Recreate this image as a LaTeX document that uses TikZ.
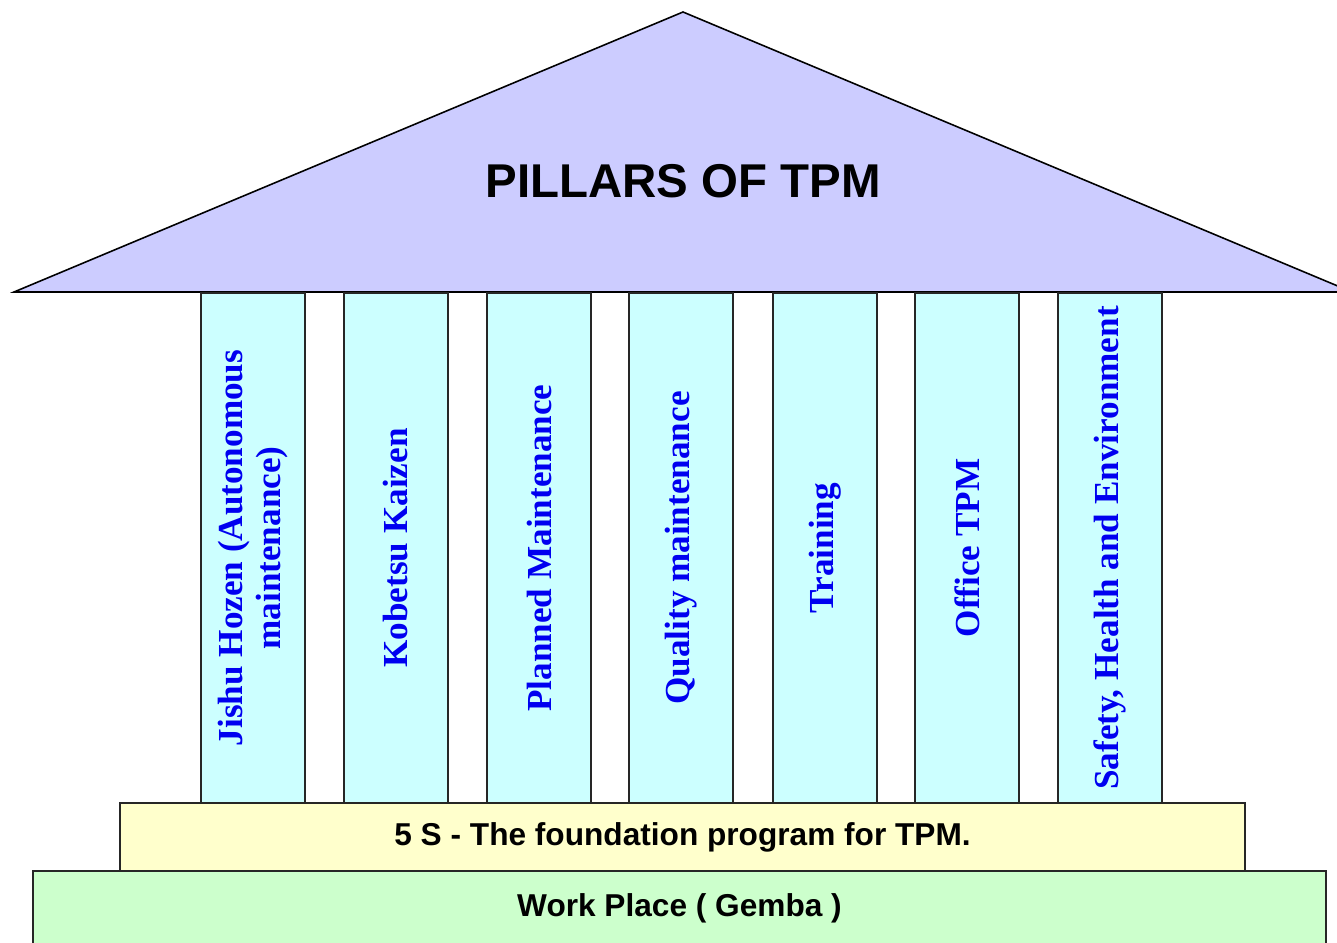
\documentclass[tikz,border=0pt]{standalone}
\usepackage{fontspec}
\setmainfont{Liberation Serif}
\setsansfont{Liberation Sans}
\usepackage{tikz}
\usetikzlibrary{positioning}

\definecolor{roofcol}{HTML}{CCCCFF}
\definecolor{pillarcol}{HTML}{CCFFFF}
\definecolor{fivescol}{HTML}{FFFFCC}
\definecolor{gembacol}{HTML}{CCFFCC}
\definecolor{pillartext}{HTML}{0000F0}

\tikzset{
	pillar/.style={draw=black!85, line width=0.9pt, fill=pillarcol, rotate=90,
		minimum width=10.2cm, minimum height=2.08cm, inner sep=0pt, align=center,
		text=pillartext, font=\rmfamily\bfseries\fontsize{20}{22}\selectfont},
	base/.style={draw=black!85, line width=0.9pt, inner sep=0pt,
		font=\sffamily\bfseries\fontsize{18}{20}\selectfont}
}

\begin{document}
\begin{tikzpicture}[x=0.02cm, y=-0.02cm]
		%%%%% START %%%%%
		\useasboundingbox (0, 0) rectangle (1337, 942);
		
		\draw[fill=roofcol, line width=0.9pt, line join=miter] (14, 292) -- (683, 12) -- (1352, 292) -- cycle;
		\node[font=\sffamily\bfseries\fontsize{27}{30}\selectfont] (title) at (683, 181) {PILLARS OF TPM};
		
		\node[pillar] (jishu) at (253, 548) {Jishu Hozen (Autonomous\\maintenance)};
		\node[pillar] (kobetsu) at (396, 548) {Kobetsu Kaizen};
		\node[pillar] (planned) at (539, 548) {Planned Maintenance};
		\node[pillar] (quality) at (681, 548) {Quality maintenance};
		\node[pillar] (training) at (825, 548) {Training};
		\node[pillar] (office) at (967, 548) {Office TPM};
		\node[pillar] (safety) at (1110, 548) {Safety, Health and Environment};
		
		\node[base, fill=fivescol, minimum width=22.5cm, minimum height=1.36cm] (fives) at (682.5, 837) {5 S - The foundation program for TPM.};
		\node[base, fill=gembacol, minimum width=25.86cm, minimum height=1.48cm] (gemba) at (679.5, 908) {Work Place ( Gemba )};
		
		%%%%% END %%%%%
\end{tikzpicture}
\end{document}
